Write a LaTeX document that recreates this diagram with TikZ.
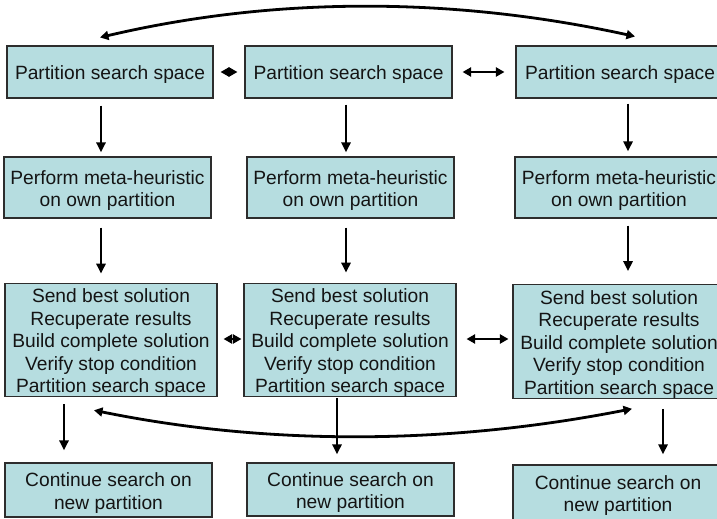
\documentclass[tikz,border=0pt]{standalone}
\usepackage{fontspec}
\setmainfont{Liberation Sans}
\usetikzlibrary{arrows.meta,calc}
\definecolor{boxfill}{RGB}{182,221,224}
\definecolor{boxline}{RGB}{45,45,45}
\definecolor{txt}{RGB}{20,20,20}
\newcommand{\tpad}{\rule{0pt}{19.5pt}}
\begin{document}
\begin{tikzpicture}[x=1pt,y=-1pt,
  box/.style={draw=boxline, line width=1.1pt, fill=boxfill, inner sep=0pt,
    align=center, text=txt, font=\fontsize{19.2}{22.5}\selectfont},
  arr/.style={line width=2.8pt, -{Triangle[length=10pt,width=9pt]}},
  darr/.style={line width=2.8pt, {Triangle[length=8.5pt,width=9pt]}-{Triangle[length=8.5pt,width=9pt]}}]
\useasboundingbox (0,0) rectangle (717,519);
% row A
\node[box, minimum width=206pt, minimum height=52pt] (A1) at (110,72) {\tpad Partition search space};
\node[box, minimum width=207pt, minimum height=52pt] (A2) at (348.5,72) {\tpad Partition search space};
\node[box, minimum width=208pt, minimum height=52pt] (A3) at (620,72) {\tpad Partition search space};
% row B
\node[box, minimum width=207pt, minimum height=61pt] (B1) at (107.5,187.5) {\tpad Perform meta-heuristic\\on own partition};
\node[box, minimum width=207pt, minimum height=61pt] (B2) at (350.5,187.5) {\tpad Perform meta-heuristic\\on own partition};
\node[box, minimum width=208pt, minimum height=61pt] (B3) at (619,187.5) {\tpad Perform meta-heuristic\\on own partition};
% row C
\node[box, minimum width=212pt, minimum height=112pt] (C1) at (111,340) {\tpad Send best solution\\Recuperate results\\Build complete solution\\Verify stop condition\\Partition search space};
\node[box, minimum width=212pt, minimum height=112pt] (C2) at (350,340) {\tpad Send best solution\\Recuperate results\\Build complete solution\\Verify stop condition\\Partition search space};
\node[box, minimum width=212pt, minimum height=111pt] (C3) at (619,341.5) {\tpad Send best solution\\Recuperate results\\Build complete solution\\Verify stop condition\\Partition search space};
% row D
\node[box, minimum width=207pt, minimum height=54pt] (D1) at (108.5,490) {\tpad Continue search on\\new partition};
\node[box, minimum width=207pt, minimum height=53pt] (D2) at (350.5,489.5) {\tpad Continue search on\\new partition};
\node[box, minimum width=210pt, minimum height=55pt] (D3) at (618,492.5) {\tpad Continue search on\\new partition};
% vertical arrows column 1
\draw[arr] ($(A1.south)+(-9,7)$) -- ($(B1.north)+(-6.5,-4)$);
\draw[arr] ($(B1.south)+(-6.5,9)$) -- ($(C1.north)+(-10,-9)$);
\draw[arr] ($(C1.south)+(-47,7)$) -- ($(D1.north)+(-44.5,-12)$);
% column 2
\draw[arr] ($(A2.south)+(-2.5,6)$) -- ($(B2.north)+(-4.5,-4)$);
\draw[arr] ($(B2.south)+(-4.5,9)$) -- ($(C2.north)+(-4,-10)$);
\draw[arr] ($(C2.south)+(-13,1)$) -- ($(D2.north)+(-13.5,-8)$);
% column 3
\draw[arr] ($(A3.south)+(8,5)$) -- ($(B3.north)+(9,-5)$);
\draw[arr] ($(B3.south)+(9,7)$) -- ($(C3.north)+(9,-13)$);
\draw[arr] ($(C3.south)+(44,10)$) -- ($(D3.north)+(45,-10)$);
% horizontal double arrows
\draw[darr] ($(A1.east)+(7,0)$) -- ($(A2.west)+(-7,0)$);
\draw[darr] ($(A2.east)+(10,0)$) -- ($(A3.west)+(-11,0)$);
\draw[darr] ($(C1.east)+(6,-1)$) -- ($(C2.west)+(-2,-1)$);
\draw[darr] ($(C2.east)+(10,-1)$) -- ($(C3.west)+(-4,-2.5)$);
% arcs
\draw[darr] ($(A1.north)+(-10,-8)$) .. controls (273.3,-3.3) and (451.7,-3.7) .. ($(A3.north)+(15,-9)$);
\draw[darr] ($(C1.south)+(-17,13)$) .. controls (268,445.7) and (447.3,445) .. ($(C3.south)+(13,10)$);
\end{tikzpicture}
\end{document}
